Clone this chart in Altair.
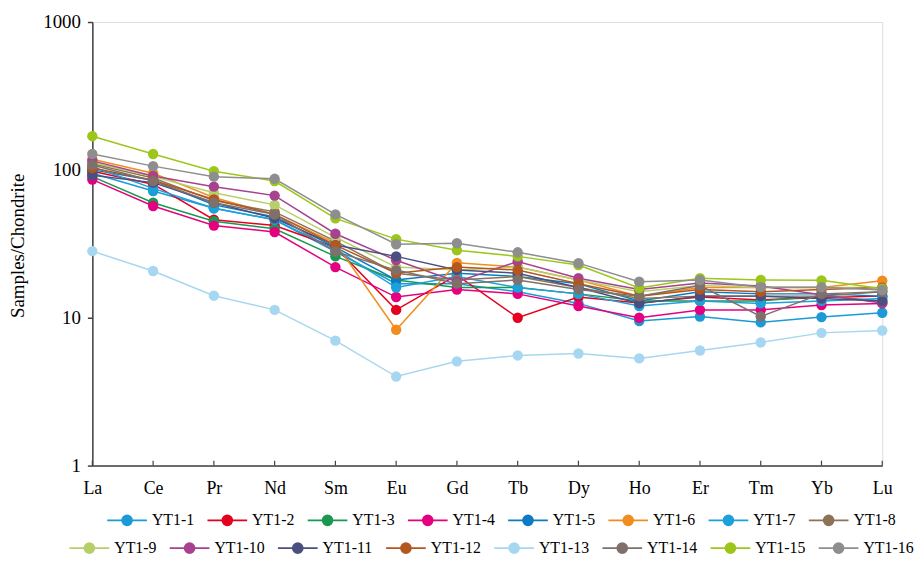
import altair as alt
import pandas as pd

elements = ["La", "Ce", "Pr", "Nd", "Sm", "Eu", "Gd", "Tb", "Dy", "Ho", "Er", "Tm", "Yb", "Lu"]
samples = ["YT1-1", "YT1-2", "YT1-3", "YT1-4", "YT1-5", "YT1-6", "YT1-7", "YT1-8",
           "YT1-9", "YT1-10", "YT1-11", "YT1-12", "YT1-13", "YT1-14", "YT1-15", "YT1-16"]
colors = ["#1B9AD7", "#E60020", "#1A9850", "#E4007F", "#0B7CC0", "#F18D1F", "#1DA1DB", "#8C7356",
          "#B7CF6A", "#A6428F", "#4B4F7F", "#B3561F", "#A7D7F0", "#80706B", "#9DC61B", "#8E8E8E"]

yt1_1 = [95, 72, 55, 46, 28, 17, 17, 15, 12.5, 9.5, 10.2, 9.3, 10.1, 10.8]
yt1_2 = [98, 80, 46, 42, 30, 11.3, 19.4, 10, 13.8, 12.6, 13.8, 13.2, 13.7, 14]
yt1_3 = [90, 60, 45, 40, 26, 18, 16, 16, 14.5, 13, 13, 13, 14, 13]
yt1_4 = [86, 57, 42, 38, 22, 13.8, 15.5, 14.5, 12, 10, 11.3, 11.3, 12.2, 12.5]
yt1_5 = [100, 85, 58, 48, 30, 18, 20, 19, 17, 13, 15, 14.5, 14.5, 14]
yt1_6 = [118, 95, 65, 50, 32, 8.3, 23.5, 22, 18, 14, 16, 16, 16, 17.8]
yt1_7 = [105, 75, 55, 46, 29, 16, 19, 16, 14.5, 12, 13, 12.5, 13, 13.5]
yt1_8 = [110, 88, 62, 52, 33, 20, 18, 19, 16, 13.5, 14, 14, 14, 15]
yt1_9 = [112, 90, 70, 58, 35, 22, 21, 22, 18, 15, 16.5, 16, 16, 16]
yt1_10 = [115, 91, 77, 67, 37, 24.5, 17.5, 24, 18.5, 15.5, 17.2, 16.4, 14.3, 12.6]
yt1_11 = [92, 82, 60, 47, 31, 26, 21, 20, 16, 12.5, 14, 14, 13.5, 13]
yt1_12 = [103, 85, 63, 50, 31, 20, 22, 21, 17, 14, 15.5, 15, 15.5, 16]
yt1_13 = [28.2, 20.7, 14.1, 11.3, 7.0, 4.0, 5.07, 5.56, 5.73, 5.31, 6.0, 6.8, 7.9, 8.2]
yt1_14 = [108, 84, 60, 50, 28, 21, 17, 18, 15.5, 14, 16.5, 10.2, 14.5, 15]
yt1_15 = [169, 128, 98, 84, 47, 34, 28.6, 26, 22.7, 15.9, 18.5, 18, 17.9, 15.7]
yt1_16 = [128, 106, 90, 87, 50, 31.4, 31.9, 27.7, 23.4, 17.5, 18, 16.1, 16.1, 15.4]

series = [yt1_1, yt1_2, yt1_3, yt1_4, yt1_5, yt1_6, yt1_7, yt1_8,
          yt1_9, yt1_10, yt1_11, yt1_12, yt1_13, yt1_14, yt1_15, yt1_16]

rows = []
for s, vals in zip(samples, series):
    for e, v in zip(elements, vals):
        rows.append({"sample": s, "element": e, "value": v})
df = pd.DataFrame(rows)
ticks_df = pd.DataFrame({"element": elements})

W, H = 796, 447
FONT = "Liberation Serif"
SYM = "M-2,0L2,0M0.5,0A0.5,0.5,0,1,1,-0.5,0A0.5,0.5,0,1,1,0.5,0Z"

x_enc = alt.X("element:N", sort=elements,
              scale=alt.Scale(type="point", domain=elements, padding=0),
              axis=alt.Axis(title=None, labelAngle=0, ticks=False, labelPadding=14,
                            labelFontSize=18, labelFont=FONT, labelColor="#000",
                            domainColor="#404040", domainWidth=1.5))
y_enc = alt.Y("value:Q",
              scale=alt.Scale(type="log", domain=[1, 1000]),
              axis=alt.Axis(values=[1, 10, 100, 1000], format="d",
                            title="Samples/Chondrite", titleFont=FONT, titleFontSize=19,
                            titleFontWeight="normal", titleColor="#000",
                            titleX=-75, titleY=225, titleAngle=-90, titleAlign="center",
                            titleBaseline="middle",
                            labelFont=FONT, labelFontSize=19, labelColor="#000",
                            labelPadding=7, tickSize=5, tickColor="#404040", tickWidth=1.5,
                            domainColor="#404040", domainWidth=1.5, grid=False))


def make_legend(vals, lx, ly):
    return alt.Legend(values=vals, title=None, orient="none", legendX=lx, legendY=ly,
                      direction="horizontal", columns=8, symbolType=SYM, symbolSize=400,
                      symbolStrokeWidth=1.8, labelFont=FONT, labelFontSize=16,
                      labelColor="#000", labelOffset=14, columnPadding=9, padding=0)


def block(dom, rng, vals, lx, ly, empty=False):
    sc = alt.Scale(domain=dom, range=rng)
    base = alt.Chart(df)
    if empty:
        base = base.transform_filter("false")
    line = base.mark_line(strokeWidth=1.5).encode(
        x=x_enc, y=y_enc,
        stroke=alt.Stroke("sample:N", scale=sc, legend=make_legend(vals, lx, ly)))
    pts = base.mark_point(filled=True, size=110, opacity=1).encode(
        x=x_enc, y=y_enc,
        fill=alt.Fill("sample:N", scale=sc, legend=make_legend(vals, lx, ly)))
    return alt.layer(line, pts)


blockA = block(samples, colors, samples[:8], 24, 491)
blockB = block(samples[8:], colors[8:], samples[8:], -14, 519, empty=True)

xticks = alt.Chart(ticks_df).mark_rule(color="#404040", strokeWidth=1.2).encode(
    x=x_enc, y=alt.value(H - 5), y2=alt.value(H))

chart = alt.layer(xticks, blockA, blockB).resolve_scale(
    stroke="independent", fill="independent"
).resolve_legend(stroke="independent", fill="independent").properties(
    width=W, height=H,
    autosize=alt.AutoSizeParams(type="none"),
    padding={"left": 85, "top": 12, "right": 33, "bottom": 92},
).configure_view(stroke=None).configure(background="white")

chart.save("out.html", embed_options={"renderer": "svg", "actions": False})
